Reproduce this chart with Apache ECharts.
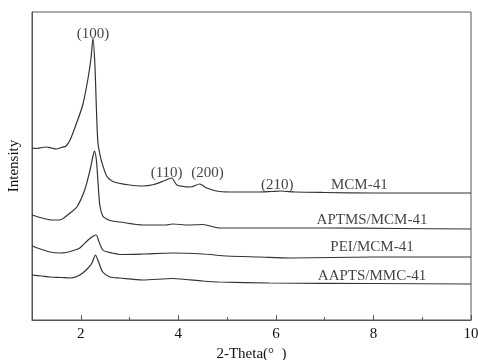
<!DOCTYPE html>
<html>
<head>
<meta charset="utf-8">
<script src="https://cdn.jsdelivr.net/npm/echarts@6/dist/echarts.min.js"></script>
<style>
  html, body { margin: 0; padding: 0; background: #fff; }
  #chart { width: 478px; height: 360px; }
</style>
</head>
<body>
<div id="chart"></div>
<script>
// offset XRD patterns, [2theta, intensity (arb., stacked)]
const mcm41 = [
  [1.0, 172], [1.1, 171.5], [1.2, 172.5], [1.3, 173], [1.4, 172], [1.5, 171], [1.6, 172.5],
  [1.7, 174], [1.78, 180], [1.9, 195], [2.04, 215], [2.15, 242], [2.21, 262], [2.25, 282],
  [2.29, 255], [2.32, 212], [2.35, 178], [2.39, 166], [2.43, 158], [2.53, 144], [2.64, 139],
  [2.76, 137], [3.0, 135], [3.27, 134], [3.5, 135.5], [3.7, 139], [3.86, 142], [3.97, 135],
  [4.1, 133.5], [4.25, 133], [4.44, 136], [4.58, 132], [4.84, 128.5], [5.2, 128], [5.6, 128],
  [5.9, 128.5], [6.1, 129], [6.4, 128], [7.0, 127.5], [8.0, 127], [9.0, 127], [10.0, 127]
];
const aptms = [
  [1.0, 105], [1.2, 102], [1.4, 100], [1.57, 100], [1.65, 102], [1.78, 107], [1.92, 113],
  [2.08, 130], [2.19, 150], [2.25, 164], [2.28, 169], [2.32, 160], [2.35, 140], [2.39, 115],
  [2.45, 104], [2.53, 101], [2.64, 99], [2.8, 98], [3.27, 95], [3.75, 95], [3.88, 96],
  [4.2, 95], [4.5, 95.5], [4.84, 92], [5.9, 92], [7.0, 92], [8.5, 91.5], [10.0, 91]
];
const pei = [
  [1.0, 74], [1.2, 70.5], [1.37, 68], [1.57, 67], [1.7, 67.5], [1.85, 69.5], [1.98, 72],
  [2.15, 80], [2.26, 84], [2.32, 85], [2.36, 80], [2.45, 70], [2.55, 68], [2.64, 67],
  [2.8, 65.5], [3.27, 66], [3.88, 67], [4.5, 66], [5.0, 64], [5.66, 63], [6.3, 62],
  [8.0, 63], [10.0, 63]
];
const aapts = [
  [1.0, 45], [1.2, 44], [1.37, 43], [1.6, 42.5], [1.78, 42], [1.92, 43.5], [2.04, 47],
  [2.15, 52], [2.23, 57], [2.3, 65], [2.35, 60], [2.45, 48], [2.6, 43], [2.8, 42],
  [3.27, 40], [3.88, 41.5], [4.5, 39], [4.84, 38], [5.87, 37], [8.0, 36.5], [10.0, 36]
];
const series = [
  { name: 'MCM-41', data: mcm41 },
  { name: 'APTMS/MCM-41', data: aptms },
  { name: 'PEI/MCM-41', data: pei },
  { name: 'AAPTS/MMC-41', data: aapts }
];
// annotations placed in data coordinates
const notes = [
  ['(100)', 2.25, 286], ['(110)', 3.76, 147], ['(200)', 4.6, 147], ['(210)', 6.03, 135],
  ['MCM-41', 7.71, 135], ['APTMS/MCM-41', 7.97, 100], ['PEI/MCM-41', 7.97, 73],
  ['AAPTS/MMC-41', 7.97, 44]
];
const majorTicks = [2, 4, 6, 8, 10];
const minorTicks = [3, 5, 7, 9];

const font = '"Liberation Serif", "Times New Roman", serif';
const ink = '#111';
const chart = echarts.init(document.getElementById('chart'));

chart.setOption({
  animation: false,
  grid: {
    left: 32, right: 7, top: 12, bottom: 40,
    outerBoundsMode: 'none',
    show: true, borderColor: '#555', borderWidth: 1
  },
  xAxis: [
    {
      type: 'value', min: 1, max: 10,
      name: '2-Theta(°  )', nameLocation: 'middle', nameGap: 23,
      nameTextStyle: { fontFamily: font, fontSize: 15, color: ink },
      axisLine: { lineStyle: { color: '#555' } },
      axisTick: { inside: true, length: 5, customValues: majorTicks, lineStyle: { color: '#555' } },
      axisLabel: { customValues: majorTicks, fontFamily: font, fontSize: 15, color: ink, margin: 7 },
      splitLine: { show: false }
    },
    {
      type: 'value', min: 1, max: 10, position: 'bottom',
      axisLine: { show: false },
      axisTick: { inside: true, length: 3, customValues: minorTicks, lineStyle: { color: '#555' } },
      axisLabel: { show: false },
      splitLine: { show: false }
    }
  ],
  yAxis: {
    type: 'value', min: 0, max: 308,
    name: 'Intensity', nameLocation: 'middle', nameGap: 10,
    nameTextStyle: { fontFamily: font, fontSize: 15, color: ink },
    axisLine: { show: true, lineStyle: { color: '#555' } },
    axisTick: { show: false },
    axisLabel: { show: false },
    splitLine: { show: false }
  },
  series: [
    ...series.map((s) => ({
      name: s.name,
      type: 'line',
      data: s.data,
      showSymbol: false,
      smooth: 0.25,
      lineStyle: { color: '#333', width: 1.2 }
    })),
    {
      type: 'scatter',
      symbolSize: 0,
      silent: true,
      data: notes.map(([name, x, y]) => ({ name, value: [x, y] })),
      label: {
        show: true, position: 'inside', formatter: '{b}',
        fontFamily: font, fontSize: 15, color: ink
      }
    }
  ]
});
</script>
</body>
</html>
